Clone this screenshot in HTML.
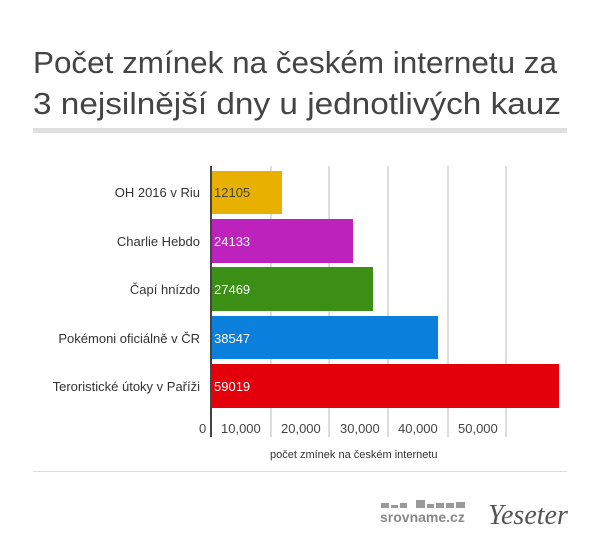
<!DOCTYPE html>
<html><head><meta charset="utf-8"><style>
body{margin:0;background:#fff;width:600px;height:553px;overflow:hidden;font-family:"Liberation Sans",sans-serif;}
</style></head><body>
<svg width="600" height="553" xmlns="http://www.w3.org/2000/svg" font-family="Liberation Sans, sans-serif">
<text x="33" y="73" font-size="31" fill="#444" textLength="524" lengthAdjust="spacingAndGlyphs">Počet zmínek na českém internetu za</text>
<text x="33" y="114" font-size="31" fill="#444" textLength="528" lengthAdjust="spacingAndGlyphs">3 nejsilnější dny u jednotlivých kauz</text>
<rect x="33" y="128" width="534" height="5" fill="#e0e0e0"/>
<g stroke="#bbb" stroke-width="1">
<line x1="271" y1="166" x2="271" y2="437"/><line x1="329" y1="166" x2="329" y2="437"/>
<line x1="388" y1="166" x2="388" y2="437"/><line x1="448" y1="166" x2="448" y2="437"/>
<line x1="506" y1="166" x2="506" y2="437"/></g>
<rect x="211" y="171" width="71" height="43" fill="#e8b100"/>
<rect x="211" y="219" width="142" height="44" fill="#bd22bd"/>
<rect x="211" y="267" width="162" height="44" fill="#3a8f14"/>
<rect x="211" y="316" width="227" height="43" fill="#0b7fdc"/>
<rect x="211" y="364" width="348" height="44" fill="#e3000b"/>
<line x1="211" y1="166" x2="211" y2="437" stroke="#444" stroke-width="2"/>
<g font-size="13" fill="#333" text-anchor="end">
<text x="200" y="197">OH 2016 v Riu</text><text x="200" y="246">Charlie Hebdo</text>
<text x="200" y="294">Čapí hnízdo</text><text x="200" y="343">Pokémoni oficiálně v ČR</text>
<text x="200" y="391">Teroristické útoky v Paříži</text></g>
<g font-size="13">
<text x="214" y="197" fill="#444">12105</text><text x="214" y="246" fill="#fff">24133</text>
<text x="214" y="294" fill="#fff">27469</text><text x="214" y="343" fill="#fff">38547</text>
<text x="214" y="391" fill="#fff">59019</text></g>
<g font-size="13" fill="#444">
<text x="199" y="433">0</text><text x="221" y="433">10,000</text><text x="281" y="433">20,000</text>
<text x="340" y="433">30,000</text><text x="398" y="433">40,000</text><text x="458" y="433">50,000</text></g>
<text x="270" y="458" font-size="11" fill="#333">počet zmínek na českém internetu</text>
<rect x="33" y="471" width="534" height="1" fill="#ddd"/>
<g fill="#999"><rect x="381" y="503" width="8" height="5"/><rect x="391" y="505" width="7" height="3"/><rect x="400" y="503" width="7" height="5"/><rect x="416" y="500" width="9" height="8"/><rect x="427" y="504" width="7" height="4"/><rect x="436" y="503" width="8" height="5"/><rect x="446" y="503" width="8" height="5"/><rect x="456" y="502" width="9" height="6"/></g>
<text x="380" y="522" font-size="14" fill="#888" font-weight="bold">srovname.cz</text>
<text x="488" y="524" font-size="28" fill="#555" font-style="italic" font-family="Liberation Serif, serif">Yeseter</text>
</svg>
</body></html>
